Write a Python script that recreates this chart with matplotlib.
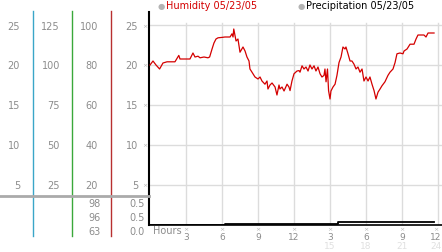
import numpy as np
import matplotlib
matplotlib.use('Agg')
import matplotlib.pyplot as plt
from matplotlib.lines import Line2D

W, H = 442, 253

# ---- Humidity 05/23/05 (hours since start, value) ----
hum_hours = [0.0, 0.25, 0.5, 0.8, 1.08, 1.42, 1.83, 2.08, 2.4, 2.5, 3.0, 3.33, 3.58, 3.75,
             4.0, 4.17, 4.5, 4.83, 4.97, 5.17, 5.33, 5.5, 5.67, 6.0, 6.25, 6.5, 6.67, 6.83,
             6.92, 6.98, 7.17, 7.33, 7.5, 7.75, 7.92, 8.08, 8.25, 8.33, 8.5, 8.75, 9.0,
             9.17, 9.33, 9.58, 9.75, 9.83, 10.0, 10.17, 10.42, 10.58, 10.75, 10.83, 11.0,
             11.17, 11.42, 11.58, 11.67, 11.83, 12.0, 12.25, 12.42, 12.5, 12.67, 12.83,
             13.0, 13.17, 13.33, 13.5, 13.67, 13.83, 14.0, 14.17, 14.33, 14.5, 14.58,
             14.67, 14.79, 14.88, 15.0, 15.08, 15.25, 15.42, 15.58, 15.75, 15.92, 16.08,
             16.25, 16.33, 16.5, 16.67, 16.83, 17.0, 17.17, 17.33, 17.5, 17.67, 17.83,
             18.0, 18.17, 18.33, 18.5, 18.67, 18.83, 19.0, 19.17, 19.33, 19.58, 19.83,
             20.0, 20.25, 20.42, 20.58, 20.83, 21.08, 21.17, 21.42, 21.67, 22.0, 22.17,
             22.33, 22.83, 23.0, 23.17, 23.67]
hum_vals = [20.0, 20.5, 20.0, 19.5, 20.25, 20.4, 20.4, 20.4, 21.2, 20.75, 20.75, 20.75, 21.5,
            21.0, 21.1, 20.9, 21.0, 20.9, 21.0, 22.0, 22.75, 23.25, 23.4, 23.45, 23.5, 23.5,
            23.5, 23.9, 23.5, 24.5, 23.0, 23.25, 21.6, 22.25, 21.75, 21.0, 20.5, 19.5, 19.1,
            18.5, 18.25, 18.5, 18.0, 17.6, 18.0, 17.0, 17.5, 17.75, 17.25, 16.25, 17.5,
            17.0, 17.25, 16.75, 17.6, 17.25, 16.8, 18.0, 18.9, 19.25, 19.3, 19.1, 19.9,
            19.5, 19.75, 19.25, 20.0, 19.5, 19.9, 19.25, 19.75, 18.9, 18.5, 18.7, 19.5,
            17.9, 19.5, 16.8, 15.75, 16.75, 17.25, 17.6, 18.7, 20.3, 21.0, 22.25, 22.0,
            22.25, 21.4, 20.5, 20.5, 20.1, 19.5, 19.75, 19.1, 19.5, 18.0, 18.5, 18.0, 18.5,
            17.6, 16.8, 15.75, 16.6, 17.0, 17.4, 17.9, 18.7, 19.1, 19.5, 20.3, 21.4, 21.5,
            21.4, 21.75, 22.0, 22.6, 22.6, 23.25, 23.75, 23.75, 23.5, 24.0, 24.0]

# ---- Precipitation 05/23/05 (cumulative) ----
prec_hours = [-0.08, 6.25, 15.67, 23.67]
prec_vals = [0.0, 0.02, 0.06, 0.06]

# ---- scale labels ----
scale_cols = [['25', '20', '15', '10', '5'],
              ['125', '100', '75', '50', '25'],
              ['100', '80', '60', '40', '20'],
              ['25', '20', '15', '10', '5']]
low_col3 = ['98', '96', '63']
low_col4 = ['0.5', '0.5', '0.0']
y_ticks = [25, 20, 15, 10, 5]
x_ticks = [3, 6, 9, 12, 15, 18, 21, 24]
x_labels = ['3', '6', '9', '12', '3', '6', '9', '12']
x_labels2 = ['15', '18', '21', '24']

GRAY = '#8c8c8c'
GRID = '#dcdcdc'
MARK = '#b4b4b4'


def fx(x):
    return x / W


def fy(y):
    return 1 - y / H


fig = plt.figure(figsize=(W / 100, H / 100), dpi=100)
fig.patch.set_facecolor('white')

# main humidity axes
ax = fig.add_axes([fx(149), fy(226), (442 - 149) / W, (226 - 13) / H])
ax.set_xlim(-1 / 12, (442 - 150) / 12)
ax.set_ylim(0, (226 - 13) / 8)
for s in ['top', 'right']:
    ax.spines[s].set_visible(False)
ax.spines['left'].set_linewidth(1.5)
ax.spines['bottom'].set_linewidth(1.2)
ax.set_xticks([])
ax.set_yticks([])
for h in x_ticks:
    ax.plot([h, h], [0, 25.2], color=GRID, lw=1, zorder=0)
for v in y_ticks:
    ax.axhline(v, color=GRID, lw=1, zorder=0)
ax.plot(hum_hours, hum_vals, color='#d40000', lw=0.9, zorder=3)

# precipitation strip
ax2 = fig.add_axes([fx(149), fy(226), (442 - 149) / W, 29 / H])
ax2.set_xlim(ax.get_xlim())
ax2.set_ylim(0, 0.5)
ax2.axis('off')
ax2.patch.set_alpha(0)
ax2.plot(prec_hours, prec_vals, color='black', lw=1.3, drawstyle='steps-post')

# left scale columns
for xl, c in [(33, '#3aa6c8'), (72, '#3aa83a'), (111, '#b83030')]:
    fig.add_artist(Line2D([fx(xl)] * 2, [fy(12), fy(237)], transform=fig.transFigure,
                          color=c, lw=1))
fig.add_artist(Line2D([0, fx(149)], [fy(197)] * 2, transform=fig.transFigure,
                      color='#aaaaaa', lw=2))

ypix = {25: 27, 20: 66, 15: 106, 10: 146, 5: 186}
col_right = [20, 60, 98, 138]
for col, xr in zip(scale_cols, col_right):
    for lab, v in zip(col, y_ticks):
        fig.text(fx(xr), fy(ypix[v]), lab, ha='right', va='center', fontsize=7, color=GRAY)
for v in y_ticks:
    fig.text(fx(145), fy(ypix[v]), '×', ha='center', va='center', fontsize=4.5, color=MARK)
for lab3, lab4, yp in zip(low_col3, low_col4, [204, 218, 232]):
    fig.text(fx(101), fy(yp), lab3, ha='right', va='center', fontsize=7, color=GRAY)
    fig.text(fx(145), fy(yp), lab4, ha='right', va='center', fontsize=7, color=GRAY)

# x axis labels
fig.text(fx(153), fy(231), 'Hours', ha='left', va='center', fontsize=7, color=GRAY)
for h, lab in zip(x_ticks, x_labels):
    xp = min(150 + h * 12, 436)
    fig.text(fx(xp), fy(229.5), '×', ha='center', va='center', fontsize=4.5, color=MARK)
    fig.text(fx(xp), fy(237.5), lab, ha='center', va='center', fontsize=6.5, color=GRAY)
for h, lab in zip(x_ticks[4:], x_labels2):
    xp = min(150 + h * 12, 436)
    fig.text(fx(xp), fy(247), lab, ha='center', va='center', fontsize=6.5,
             color='#e0e0e0')

# legend-like titles
fig.text(fx(161), fy(6), '●', ha='center', va='center', fontsize=6, color='#b4b4b4')
fig.text(fx(166), fy(6), 'Humidity 05/23/05', ha='left', va='center', fontsize=7,
         color='#d40000')
fig.text(fx(301), fy(6), '●', ha='center', va='center', fontsize=6, color='#b4b4b4')
fig.text(fx(306), fy(6), 'Precipitation 05/23/05', ha='left', va='center', fontsize=7,
         color='black')

fig.savefig('out.png', dpi=100, facecolor='white')
